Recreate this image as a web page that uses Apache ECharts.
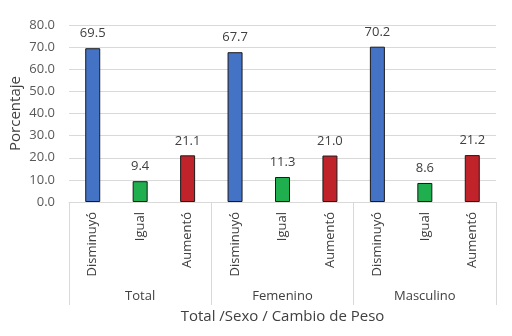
<!DOCTYPE html>
<html>
<head>
<meta charset="utf-8">
<script src="https://cdn.jsdelivr.net/npm/echarts@6/dist/echarts.min.js"></script>
<style>
  html, body { margin: 0; padding: 0; background: #fff; }
  #chart { width: 512px; height: 336px; }
</style>
</head>
<body>
<div id="chart"></div>
<script>
// datos
var grupos = ['Total', 'Femenino', 'Masculino'];
var cambios = ['Disminuyó', 'Igual', 'Aumentó'];
var valTotal = [69.5, 9.4, 21.1];
var valFemenino = [67.7, 11.3, 21.0];
var valMasculino = [70.2, 8.6, 21.2];
var yTicks = [0, 10, 20, 30, 40, 50, 60, 70, 80];

var colores = ['#4472C4', '#1FAF4F', '#C1232B'];
var fuente = 'Open Sans';

var categorias = [];
var datos = [];
[valTotal, valFemenino, valMasculino].forEach(function (arr) {
  arr.forEach(function (v, i) {
    categorias.push(cambios[i]);
    datos.push({ value: v, itemStyle: { color: colores[i] } });
  });
});

var myChart = echarts.init(document.getElementById('chart'));
var option = {
  animation: false,
  textStyle: { fontFamily: fuente },
  grid: { left: 69, right: 16, top: 25, bottom: 134, outerBoundsMode: 'none', containLabel: false },
  xAxis: [
    {
      type: 'category',
      data: categorias,
      axisLine: { lineStyle: { color: '#d9d9d9' } },
      axisTick: { show: false },
      axisLabel: { rotate: 90, margin: 10, fontSize: 13, color: '#404040', fontFamily: fuente }
    },
    {
      type: 'category',
      data: grupos,
      position: 'bottom',
      axisLine: { show: false },
      axisTick: { show: true, length: 103, lineStyle: { color: '#d9d9d9' } },
      axisLabel: { margin: 88, fontSize: 13, color: '#404040', fontFamily: fuente },
      name: 'Total /Sexo / Cambio de Peso',
      nameLocation: 'middle',
      nameGap: 107,
      nameMoveOverlap: false,
      nameTextStyle: { fontSize: 15, color: '#404040', fontFamily: fuente }
    }
  ],
  yAxis: {
    type: 'value',
    min: yTicks[0],
    max: yTicks[yTicks.length - 1],
    interval: 10,
    name: 'Porcentaje',
    nameLocation: 'middle',
    nameGap: 46,
    nameMoveOverlap: false,
    nameTextStyle: { fontSize: 15, color: '#404040', fontFamily: fuente },
    axisLine: { show: false },
    axisTick: { show: false },
    splitLine: { lineStyle: { color: '#d9d9d9' } },
    axisLabel: {
      margin: 14, fontSize: 13, color: '#595959', fontFamily: fuente,
      formatter: function (v) { return v.toFixed(1); }
    }
  },
  series: [{
    type: 'bar',
    xAxisIndex: 0,
    data: datos,
    barWidth: 15,
    itemStyle: { borderColor: '#1a1a1a', borderWidth: 1 },
    label: {
      show: true, position: 'top', distance: 8,
      fontSize: 13, color: '#404040', fontFamily: fuente,
      formatter: function (p) { return p.value.toFixed(1); }
    }
  }]
};
myChart.setOption(option);
</script>
</body>
</html>
